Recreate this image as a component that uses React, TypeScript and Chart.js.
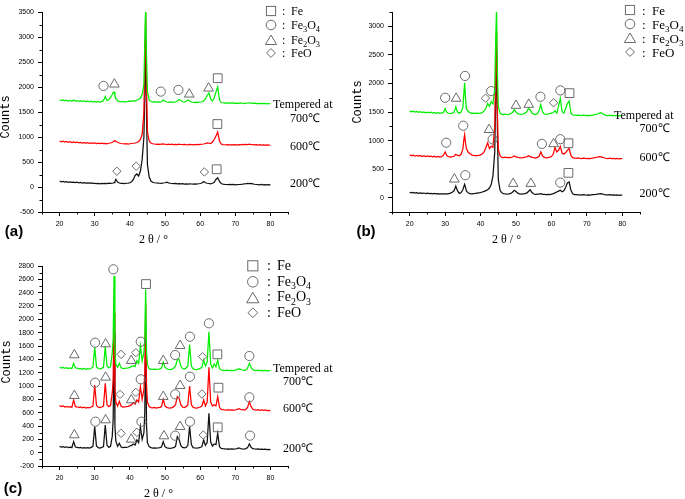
import React, { useEffect, useRef } from 'react';
import { Chart, registerables } from 'chart.js';

Chart.register(...registerables);

// ---------- data ----------
const TWO_THETA = [
  20, 20.5, 21, 21.5, 22, 22.5, 23, 23.5, 24, 24.5,
  25, 25.5, 26, 26.5, 27, 27.5, 28, 28.5, 29, 29.5,
  30, 30.5, 31, 31.5, 32, 32.5, 33, 33.5, 34, 34.5,
  35, 35.25, 35.5, 35.75, 36, 36.5, 37, 37.5, 38, 38.5,
  39, 39.5, 40, 40.5, 41, 41.5, 42, 42.5, 43, 43.5,
  44, 44.25, 44.5, 44.75, 45, 45.5, 46, 46.5, 47, 47.5,
  48, 48.5, 49, 49.5, 50, 50.5, 51, 51.5, 52, 52.5,
  53, 53.5, 54, 54.5, 55, 55.5, 56, 56.5, 57, 57.5,
  58, 58.5, 59, 59.5, 60, 60.5, 61, 61.5, 62, 62.5,
  63, 63.5, 64, 64.5, 65, 65.5, 66, 66.5, 67, 67.5,
  68, 68.5, 69, 69.5, 70, 70.5, 71, 71.5, 72, 72.5,
  73, 73.5, 74, 74.5, 75, 75.5, 76, 76.5, 77, 77.5,
  78, 78.5, 79, 79.5, 80,
];

// Panel (a)
const A_200 = [
  120, 105, 112, 98, 108, 95, 100, 92, 98, 88,
  95, 85, 90, 80, 86, 78, 84, 76, 80, 72,
  74, 68, 72, 65, 70, 66, 72, 70, 75, 72,
  75, 80, 90, 110, 155, 100, 80, 74, 72, 70,
  75, 78, 85, 105, 150, 230, 260, 220, 320, 550,
  1000, 1900, 3000, 1400, 450, 200, 120, 95, 85, 80,
  78, 75, 72, 80, 85, 95, 82, 75, 70, 68,
  70, 65, 68, 62, 66, 60, 64, 58, 62, 60,
  58, 62, 60, 65, 70, 80, 110, 85, 75, 70,
  65, 75, 95, 150, 185, 110, 70, 55, 52, 50,
  48, 52, 46, 50, 45, 48, 50, 52, 55, 62,
  65, 70, 68, 72, 62, 55, 50, 48, 45, 50,
  45, 48, 42, 46, 44,
];
const A_600 = [
  920, 905, 915, 900, 910, 895, 905, 890, 900, 888,
  895, 885, 892, 880, 888, 878, 886, 875, 882, 872,
  880, 870, 878, 868, 875, 866, 872, 865, 875, 880,
  895, 905, 920, 925, 915, 895, 880, 870, 865, 862,
  866, 860, 865, 870, 875, 880, 890, 910, 950, 1050,
  1500, 2500, 3480, 2000, 1100, 920, 880, 865, 860, 855,
  858, 852, 856, 860, 855, 850, 856, 848, 855, 850,
  852, 848, 855, 850, 846, 852, 848, 845, 850, 846,
  848, 844, 850, 846, 852, 855, 860, 870, 880, 875,
  870, 900, 950, 1020, 1100, 920, 860, 848, 845, 842,
  848, 840, 846, 842, 848, 840, 845, 842, 850, 846,
  852, 848, 855, 850, 846, 842, 848, 840, 845, 838,
  842, 836, 840, 838, 835,
];
const A_700 = [
  1745, 1730, 1740, 1722, 1735, 1718, 1730, 1715, 1740, 1720,
  1728, 1712, 1725, 1708, 1722, 1706, 1718, 1704, 1715, 1700,
  1712, 1700, 1710, 1698, 1708, 1730, 1810, 1730, 1745, 1790,
  1850, 1890, 1900, 1830, 1770, 1725, 1712, 1705, 1710, 1700,
  1708, 1712, 1720, 1715, 1725, 1720, 1740, 1750, 1780, 1850,
  2050, 2900, 3650, 2600, 1900, 1740, 1710, 1700, 1705, 1698,
  1702, 1696, 1705, 1740, 1715, 1700, 1695, 1700, 1692, 1698,
  1700, 1720, 1750, 1730, 1705, 1698, 1715, 1740, 1725, 1700,
  1695, 1690, 1698, 1692, 1700, 1705, 1720, 1760, 1830, 1880,
  1760, 1720, 1780, 1900, 2000, 1740, 1690, 1685, 1680, 1684,
  1678, 1682, 1676, 1680, 1674, 1678, 1672, 1680, 1675, 1670,
  1676, 1680, 1684, 1678, 1672, 1676, 1670, 1674, 1668, 1672,
  1666, 1670, 1664, 1668, 1665,
];

// Panel (b)
const B_200 = [
  95, 85, 92, 80, 90, 78, 86, 75, 82, 72,
  80, 70, 76, 68, 74, 66, 72, 64, 70, 62,
  70, 64, 72, 80, 95, 120, 205, 120, 75, 90,
  140, 190, 235, 180, 120, 85, 70, 68, 72, 75,
  80, 85, 90, 100, 110, 125, 140, 170, 230, 380,
  800, 1700, 2600, 1200, 320, 130, 85, 70, 65, 62,
  66, 75, 95, 130, 110, 80, 68, 62, 66, 70,
  80, 110, 140, 90, 65, 60, 64, 62, 70, 60,
  58, 55, 60, 56, 62, 70, 85, 100, 115, 130,
  105, 120, 180, 260, 275, 130, 70, 55, 52, 48,
  50, 46, 52, 48, 45, 50, 47, 52, 55, 58,
  62, 66, 70, 62, 55, 50, 48, 52, 46, 50,
  44, 48, 42, 46, 44,
];
const B_600 = [
  750, 735, 745, 730, 742, 728, 738, 722, 735, 720,
  730, 718, 728, 715, 725, 712, 722, 710, 720, 740,
  800, 735, 718, 712, 720, 725, 760, 740, 735, 760,
  850, 1000, 1100, 960, 860, 800, 770, 750, 740, 735,
  738, 742, 750, 770, 800, 880, 960, 860, 900, 880,
  1250, 2200, 2950, 1500, 850, 730, 705, 700, 708, 702,
  705, 700, 712, 730, 715, 705, 700, 696, 702, 710,
  715, 735, 720, 705, 700, 695, 705, 720, 800, 730,
  705, 698, 702, 710, 720, 760, 880, 800, 830, 900,
  780, 760, 790, 830, 865, 740, 700, 692, 688, 695,
  690, 686, 692, 688, 684, 690, 686, 692, 698, 705,
  712, 720, 715, 705, 695, 690, 686, 692, 684, 688,
  682, 688, 680, 686, 684,
];
const B_700 = [
  1520, 1505, 1515, 1498, 1510, 1495, 1505, 1490, 1502, 1486,
  1498, 1484, 1495, 1480, 1492, 1478, 1490, 1475, 1486, 1490,
  1560, 1490, 1478, 1472, 1480, 1490, 1590, 1500, 1480, 1500,
  1580, 1800, 2010, 1750, 1560, 1510, 1490, 1478, 1482, 1476,
  1480, 1475, 1482, 1490, 1520, 1560, 1650, 1600, 1680, 1640,
  1900, 2700, 3300, 2200, 1600, 1480, 1460, 1455, 1462, 1456,
  1460, 1470, 1490, 1540, 1500, 1470, 1462, 1458, 1465, 1480,
  1500, 1560, 1540, 1480, 1462, 1455, 1470, 1520, 1630, 1500,
  1465, 1458, 1462, 1470, 1480, 1490, 1520, 1480, 1600, 1740,
  1510, 1480, 1560, 1650, 1690, 1480, 1450, 1445, 1440, 1446,
  1442, 1438, 1444, 1440, 1436, 1442, 1438, 1446, 1450, 1458,
  1465, 1480, 1490, 1470, 1450, 1442, 1438, 1444, 1436, 1440,
  1434, 1440, 1432, 1438, 1436,
];

// Panel (c)
const C_200 = [
  95, 85, 90, 80, 88, 76, 82, 75, 165, 85,
  80, 72, 78, 70, 76, 68, 74, 70, 80, 95,
  390, 100, 75, 70, 78, 90, 415, 110, 80, 95,
  250, 500, 1800, 400, 180, 95, 140, 85, 75, 78,
  80, 85, 100, 110, 130, 115, 190, 150, 390, 200,
  300, 600, 1700, 400, 150, 90, 75, 70, 72, 68,
  70, 75, 85, 165, 90, 72, 68, 65, 70, 75,
  95, 240, 200, 110, 80, 72, 80, 110, 390, 120,
  75, 70, 68, 72, 78, 90, 190, 110, 150, 590,
  160, 100, 130, 120, 290, 90, 65, 60, 58, 55,
  58, 54, 56, 52, 55, 60, 70, 62, 58, 55,
  60, 75, 130, 80, 60, 55, 52, 56, 50, 54,
  48, 52, 45, 50, 46,
];
const C_600 = [
  705, 690, 700, 685, 695, 682, 690, 680, 790, 690,
  688, 676, 685, 672, 682, 670, 680, 672, 685, 700,
  1015, 710, 682, 676, 685, 700, 1040, 720, 690, 710,
  900, 1100, 2100, 950, 760, 700, 770, 700, 685, 688,
  690, 695, 705, 720, 750, 730, 790, 760, 990, 800,
  950, 1200, 2250, 1000, 760, 690, 676, 672, 678, 670,
  675, 680, 690, 800, 700, 680, 672, 668, 675, 690,
  720, 840, 820, 720, 685, 676, 690, 720, 1000, 720,
  680, 672, 668, 675, 685, 700, 790, 700, 760, 1280,
  760, 700, 720, 700, 840, 680, 650, 645, 642, 640,
  645, 640, 642, 638, 640, 648, 660, 650, 645, 640,
  648, 680, 765, 690, 650, 642, 638, 645, 636, 640,
  634, 640, 630, 636, 632,
];
const C_700 = [
  1285, 1270, 1280, 1265, 1275, 1262, 1270, 1260, 1340, 1270,
  1268, 1256, 1265, 1252, 1262, 1250, 1260, 1252, 1265, 1285,
  1580, 1290, 1262, 1256, 1265, 1280, 1590, 1300, 1270, 1290,
  1500, 1700, 2650, 1500, 1330, 1280, 1340, 1275, 1262, 1265,
  1268, 1272, 1280, 1295, 1300, 1290, 1380, 1340, 1600, 1380,
  1500, 1700, 2450, 1500, 1320, 1260, 1250, 1248, 1254, 1248,
  1252, 1258, 1270, 1360, 1280, 1258, 1250, 1246, 1254, 1270,
  1300, 1390, 1400, 1300, 1262, 1255, 1270, 1300, 1620, 1300,
  1258, 1250, 1246, 1252, 1265, 1280, 1390, 1300, 1360, 1815,
  1330, 1270, 1330, 1290, 1390, 1260, 1240, 1236, 1232, 1238,
  1234, 1230, 1236, 1232, 1238, 1245, 1260, 1250, 1240, 1236,
  1242, 1270, 1340, 1280, 1245, 1236, 1232, 1238, 1230, 1234,
  1228, 1234, 1226, 1232, 1230,
];

// phase markers [2θ, counts]
type Pt = [number, number];
const A_FE: Pt[] = [[44.3, 3660], [65, 2176], [64.9, 1259], [64.7, 355]];
const A_FE3O4: Pt[] = [[32.5, 2022], [48.8, 1908], [53.8, 1942]];
const A_FE2O3: Pt[] = [[35.6, 2055], [56.9, 1855], [62.4, 1975]];
const A_FEO: Pt[] = [[36.3, 315], [41.8, 416], [61.2, 301]];

const B_FE: Pt[] = [[44.5, 3397], [65.1, 1830], [64.8, 953], [64.8, 435]];
const B_FE3O4: Pt[] = [
  [30, 1749], [35.6, 2131], [43, 1866], [56.9, 1767], [62.5, 1878],
  [30.3, 963], [35.1, 1260], [43.4, 1022], [57.3, 942], [62.5, 1024],
  [35.7, 394], [62.5, 265],
];
const B_FE2O3: Pt[] = [
  [33.1, 1737], [50, 1613], [53.6, 1631],
  [42.4, 1190], [60.6, 942],
  [32.6, 323], [49.2, 247], [54.2, 247],
];
const B_FEO: Pt[] = [[41.4, 1742], [60.6, 1661]];

const C_FE: Pt[] = [[44.6, 2529], [64.9, 1475], [65.2, 975], [65, 380]];
const C_FE3O4: Pt[] = [
  [35.3, 2750],
  [30.1, 1650], [43.1, 1665], [52.9, 1465], [57.1, 1740], [62.5, 1940], [74, 1450],
  [30.1, 1050], [43.1, 1100], [52.9, 875], [57.1, 1140], [74, 830],
  [30.2, 465], [43.3, 465], [52.9, 255], [57.1, 465], [74.2, 255],
];
const C_FE2O3: Pt[] = [
  [24.2, 1465], [33.1, 1630], [40.4, 1380], [49.5, 1380], [54.3, 1605],
  [24.2, 855], [33.1, 1130], [40.4, 790], [49.5, 840], [54.3, 1005],
  [24.2, 265], [33.1, 490], [40.4, 200], [49.7, 250], [54.3, 390],
];
const C_FEO: Pt[] = [
  [37.5, 1475], [41.7, 1500], [60.7, 1440],
  [37.2, 875], [41.7, 905], [60.5, 880],
  [37.5, 290], [42, 305], [60.9, 265],
];

// axis ticks
const X_TICKS = [20, 30, 40, 50, 60, 70, 80];
const X_MINOR = [15, 25, 35, 45, 55, 65, 75, 85];
const A_Y_TICKS = [-500, 0, 500, 1000, 1500, 2000, 2500, 3000, 3500];
const A_Y_MINOR = [-250, 250, 750, 1250, 1750, 2250, 2750, 3250];
const B_Y_TICKS = [0, 500, 1000, 1500, 2000, 2500, 3000];
const B_Y_MINOR = [-250, 250, 750, 1250, 1750, 2250, 2750, 3250];
const C_Y_TICKS = [-200, 0, 200, 400, 600, 800, 1000, 1200, 1400, 1600, 1800, 2000, 2200, 2400, 2600, 2800];
const C_Y_MINOR = [-100, 100, 300, 500, 700, 900, 1100, 1300, 1500, 1700, 1900, 2100, 2300, 2500, 2700];

const TEMPS = ['Tempered at', '700℃', '600℃', '200℃'];
const PHASES = ['Fe', 'Fe3O4', 'Fe2O3', 'FeO'];

// ---------- styles ----------
const GREEN = '#00ee00';
const RED = '#ff0000';
const BLACK = '#111111';
const MARK = '#6a6a6a';
const SANS = '"Liberation Sans", Arial, sans-serif';
const SERIF = '"Liberation Serif", "Times New Roman", serif';

const minorTicks = {
  id: 'minorTicks',
  afterDraw(chart: any, _args: any, opts: any) {
    const ctx = chart.ctx;
    const xs = chart.scales.x;
    const ys = chart.scales.y;
    ctx.save();
    ctx.strokeStyle = '#000';
    ctx.lineWidth = 1;
    ctx.beginPath();
    for (const v of opts.x || []) {
      const px = Math.round(xs.getPixelForValue(v)) + 0.5;
      ctx.moveTo(px, xs.top);
      ctx.lineTo(px, xs.top + 2.5);
    }
    for (const v of opts.y || []) {
      const py = Math.round(ys.getPixelForValue(v)) + 0.5;
      ctx.moveTo(ys.right, py);
      ctx.lineTo(ys.right - 2.5, py);
    }
    ctx.stroke();
    ctx.restore();
  },
};

interface PanelSpec {
  left: number; top: number; width: number; height: number; padRight: number;
  yMin: number; yMax: number; yTicks: number[]; yMinor: number[];
  s200: number[]; s600: number[]; s700: number[];
  fe: Pt[]; fe3o4: Pt[]; fe2o3: Pt[]; feo: Pt[];
}

function lineDs(ys: number[], color: string) {
  return {
    data: TWO_THETA.map((x, i) => ({ x, y: ys[i] })),
    showLine: true,
    borderColor: color,
    borderWidth: 1.25,
    pointRadius: 0,
    tension: 0,
  };
}
function markDs(pts: Pt[], style: string, r: number) {
  return {
    data: pts.map(([x, y]) => ({ x, y })),
    showLine: false,
    pointStyle: style,
    pointRadius: r,
    pointBorderColor: MARK,
    pointBackgroundColor: 'rgba(0,0,0,0)',
    pointBorderWidth: 1,
    clip: false,
  };
}

function XrdPanel({ spec }: { spec: PanelSpec }) {
  const ref = useRef<HTMLCanvasElement>(null);
  useEffect(() => {
    const axisCommon = {
      grid: { drawOnChartArea: false, drawTicks: true, tickLength: 4, color: '#000', tickColor: '#000' },
      border: { display: true, color: '#000', width: 1 },
    };
    const chart = new Chart(ref.current as HTMLCanvasElement, {
      type: 'scatter',
      data: {
        datasets: [
          markDs(spec.fe, 'rect', 6.2),
          markDs(spec.fe3o4, 'circle', 4.6),
          markDs(spec.fe2o3, 'triangle', 5.6),
          markDs(spec.feo, 'rectRot', 4.2),
          lineDs(spec.s700, GREEN),
          lineDs(spec.s600, RED),
          lineDs(spec.s200, BLACK),
        ] as any,
      },
      options: {
        animation: false,
        responsive: false,
        events: [],
        layout: { padding: { top: 12, right: spec.padRight, left: 0, bottom: 0 }, autoPadding: false },
        plugins: {
          legend: { display: false },
          tooltip: { enabled: false },
          minorTicks: { x: X_MINOR, y: spec.yMinor },
        } as any,
        scales: {
          x: {
            type: 'linear', min: 15, max: 85,
            afterBuildTicks: (s: any) => { s.ticks = X_TICKS.map((v) => ({ value: v })); },
            afterFit: (s: any) => { s.height = 20; },
            ...axisCommon,
            ticks: { font: { size: 7, family: SANS }, color: '#000', padding: 4, maxRotation: 0, autoSkip: false, callback: (v: any) => String(v) },
          },
          y: {
            type: 'linear', min: spec.yMin, max: spec.yMax,
            afterBuildTicks: (s: any) => { s.ticks = spec.yTicks.map((v) => ({ value: v })); },
            afterFit: (s: any) => { s.width = 42; },
            ...axisCommon,
            ticks: { font: { size: 7, family: SANS }, color: '#000', padding: 4, autoSkip: false, callback: (v: any) => String(v) },
          },
        } as any,
      },
      plugins: [minorTicks as any],
    });
    return () => chart.destroy();
  }, []);
  return (
    <canvas
      ref={ref}
      width={spec.width}
      height={spec.height}
      style={{ position: 'absolute', left: spec.left, top: spec.top, width: spec.width, height: spec.height }}
    />
  );
}

function PhaseName({ name }: { name: string }) {
  const sub = (t: string) => (
    <span style={{ fontSize: '0.7em', position: 'relative', top: '0.38em', lineHeight: 0 }}>{t}</span>
  );
  if (name === 'Fe3O4') return <>Fe{sub('3')}O{sub('4')}</>;
  if (name === 'Fe2O3') return <>Fe{sub('2')}O{sub('3')}</>;
  return <>{name}</>;
}

function Symbol({ kind, cx, cy, k }: { kind: number; cx: number; cy: number; k: number }) {
  const s = 16 * k;
  const c = s / 2;
  let shape: any = null;
  if (kind === 0) shape = <rect x={c - 4.6 * k} y={c - 4.6 * k} width={9.2 * k} height={9.2 * k} />;
  if (kind === 1) shape = <circle cx={c} cy={c} r={4.8 * k} />;
  if (kind === 2) shape = <polygon points={`${c},${c - 5 * k} ${c + 5.6 * k},${c + 4.5 * k} ${c - 5.6 * k},${c + 4.5 * k}`} />;
  if (kind === 3) shape = <polygon points={`${c},${c - 4.4 * k} ${c + 4.4 * k},${c} ${c},${c + 4.4 * k} ${c - 4.4 * k},${c}`} />;
  return (
    <svg width={s} height={s} style={{ position: 'absolute', left: cx - c, top: cy - c }}>
      <g fill="none" stroke={MARK} strokeWidth={1}>{shape}</g>
    </svg>
  );
}

function Legend({ mx, colonX, textX, rows, fs, k }: { mx: number; colonX: number; textX: number; rows: number[]; fs: number; k: number }) {
  return (
    <>
      {PHASES.map((p, i) => (
        <React.Fragment key={p}>
          <Symbol kind={i} cx={mx} cy={rows[i]} k={k} />
          <div style={{ position: 'absolute', left: colonX, top: rows[i] - fs / 2, fontSize: fs, lineHeight: `${fs}px`, fontFamily: SERIF }}>:</div>
          <div style={{ position: 'absolute', left: textX, top: rows[i] - fs / 2, fontSize: fs, lineHeight: `${fs}px`, fontFamily: SERIF, whiteSpace: 'nowrap' }}>
            <PhaseName name={p} />
          </div>
        </React.Fragment>
      ))}
    </>
  );
}

function TempLabels({ pos }: { pos: [number, number][] }) {
  return (
    <>
      {TEMPS.map((t, i) => (
        <div key={t} style={{ position: 'absolute', left: pos[i][0], top: pos[i][1] - 6, fontSize: 12, lineHeight: '12px', fontFamily: SERIF, whiteSpace: 'nowrap' }}>{t}</div>
      ))}
    </>
  );
}

function Text({ x, y, children, style }: { x: number; y: number; children: any; style?: any }) {
  return (
    <div style={{ position: 'absolute', left: x, top: y, transform: 'translate(-50%, -50%)', whiteSpace: 'nowrap', ...style }}>{children}</div>
  );
}

const PANEL_A: PanelSpec = {
  left: 0, top: 0, width: 300, height: 232, padRight: 12,
  yMin: -500, yMax: 3500, yTicks: A_Y_TICKS, yMinor: A_Y_MINOR,
  s200: A_200, s600: A_600, s700: A_700,
  fe: A_FE, fe3o4: A_FE3O4, fe2o3: A_FE2O3, feo: A_FEO,
};
const PANEL_B: PanelSpec = {
  left: 350, top: 0, width: 300, height: 232, padRight: 10,
  yMin: -250, yMax: 3250, yTicks: B_Y_TICKS, yMinor: B_Y_MINOR,
  s200: B_200, s600: B_600, s700: B_700,
  fe: B_FE, fe3o4: B_FE3O4, fe2o3: B_FE2O3, feo: B_FEO,
};
const PANEL_C: PanelSpec = {
  left: 0, top: 254, width: 300, height: 232, padRight: 12,
  yMin: -200, yMax: 2800, yTicks: C_Y_TICKS, yMinor: C_Y_MINOR,
  s200: C_200, s600: C_600, s700: C_700,
  fe: C_FE, fe3o4: C_FE3O4, fe2o3: C_FE2O3, feo: C_FEO,
};

export default function App() {
  const countsStyle = { fontFamily: '"Liberation Mono", monospace', fontSize: 12, transform: 'translate(-50%, -50%) rotate(-90deg)' };
  const xTitleStyle = { fontFamily: SERIF, fontSize: 12, letterSpacing: '3px' };
  const tagStyle = { fontFamily: SANS, fontSize: 15, fontWeight: 'bold' };
  return (
    <div style={{ position: 'absolute', left: 0, top: 0, width: 685, height: 499, background: '#fff', overflow: 'hidden', color: '#000' }}>
      <XrdPanel spec={PANEL_A} />
      <XrdPanel spec={PANEL_B} />
      <XrdPanel spec={PANEL_C} />

      <Legend mx={270.5} colonX={282} textX={291} rows={[10.7, 25.3, 39.5, 53.3]} fs={12} k={1} />
      <Legend mx={629.5} colonX={642} textX={652} rows={[10, 24, 38.3, 52.3]} fs={13} k={1} />
      <Legend mx={253} colonX={267} textX={277} rows={[266, 281.7, 297.3, 312.7]} fs={14} k={1.1} />

      <TempLabels pos={[[273, 104.3], [290, 117.5], [290, 145.8], [290, 183.3]]} />
      <TempLabels pos={[[614, 115], [639.5, 127.7], [639.5, 156.7], [639.5, 192.7]]} />
      <TempLabels pos={[[273, 368.3], [283, 381], [283, 408.3], [283, 448.3]]} />

      <Text x={6} y={117} style={countsStyle}>Counts</Text>
      <Text x={358} y={102} style={countsStyle}>Counts</Text>
      <Text x={7} y={362} style={countsStyle}>Counts</Text>

      <Text x={155} y={238.5} style={xTitleStyle}>2θ/°</Text>
      <Text x={508} y={238.5} style={xTitleStyle}>2θ/°</Text>
      <Text x={160} y={493} style={xTitleStyle}>2θ/°</Text>

      <Text x={14} y={230} style={tagStyle}>(a)</Text>
      <Text x={366} y={229.5} style={tagStyle}>(b)</Text>
      <Text x={13} y={487} style={tagStyle}>(c)</Text>
    </div>
  );
}
